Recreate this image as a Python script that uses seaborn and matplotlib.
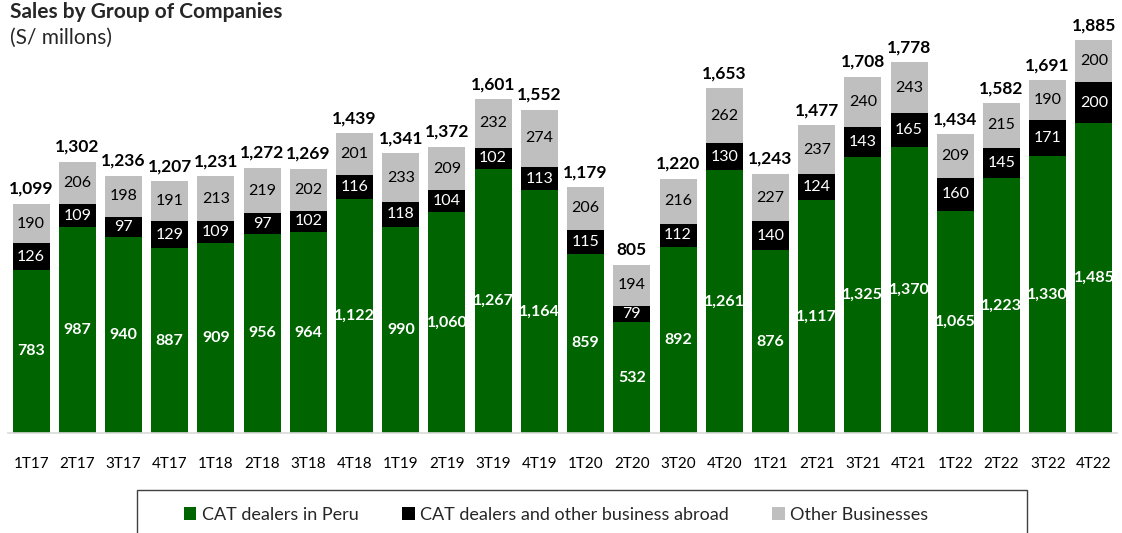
import matplotlib
matplotlib.use("Agg")
import matplotlib.pyplot as plt
import seaborn as sns
import numpy as np
import pandas as pd
from matplotlib.patches import Rectangle, Patch

quarters = ["1T17", "2T17", "3T17", "4T17", "1T18", "2T18", "3T18", "4T18",
            "1T19", "2T19", "3T19", "4T19", "1T20", "2T20", "3T20", "4T20",
            "1T21", "2T21", "3T21", "4T21", "1T22", "2T22", "3T22", "4T22"]
cat_peru = [783, 987, 940, 887, 909, 956, 964, 1122, 990, 1060, 1267, 1164,
            859, 532, 892, 1261, 876, 1117, 1325, 1370, 1065, 1223, 1330, 1485]
cat_abroad = [126, 109, 97, 129, 109, 97, 102, 116, 118, 104, 102, 113,
              115, 79, 112, 130, 140, 124, 143, 165, 160, 145, 171, 200]
other = [190, 206, 198, 191, 213, 219, 202, 201, 233, 209, 232, 274,
         206, 194, 216, 262, 227, 237, 240, 243, 209, 215, 190, 200]
totals = [1099, 1302, 1236, 1207, 1231, 1272, 1269, 1439, 1341, 1372, 1601, 1552,
          1179, 805, 1220, 1653, 1243, 1477, 1708, 1778, 1434, 1582, 1691, 1885]
series_names = ["CAT dealers in Peru", "CAT dealers and other business abroad", "Other Businesses"]
colors = ["#006400", "#000000", "#BFBFBF"]

sns.set_theme(style="white")
plt.rcParams['font.family'] = ['Lato', 'DejaVu Sans']

W, H = 1122, 533
fig = plt.figure(figsize=(W / 100, H / 100), dpi=100)
ax = fig.add_axes([8 / W, (H - 433) / H, (1117 - 8) / W, (433 - 40) / H])

df = pd.DataFrame({"q": quarters, "peru": cat_peru, "abroad": cat_abroad, "other": other})
b2 = np.array(cat_peru, dtype=float)
b3 = b2 + np.array(cat_abroad)

sns.barplot(data=df, x="q", y="peru", color=colors[0], width=0.8, ax=ax,
            saturation=1, linewidth=0)
sns.barplot(data=df, x="q", y="abroad", bottom=b2, color=colors[1], width=0.8, ax=ax,
            saturation=1, linewidth=0)
sns.barplot(data=df, x="q", y="other", bottom=b3, color=colors[2], width=0.8, ax=ax,
            saturation=1, linewidth=0)

ax.set_xlim(-0.5, len(quarters) - 0.5)
ax.set_ylim(0, 1885)
ax.set_xlabel("")
ax.set_ylabel("")
ax.set_yticks([])
for s in ["top", "right", "left"]:
    ax.spines[s].set_visible(False)
ax.spines["bottom"].set_color("#D9D9D9")
ax.spines["bottom"].set_linewidth(1.2)
ax.tick_params(axis="x", length=0, pad=17, labelsize=11, colors="#000000")

for i in range(len(quarters)):
    ax.text(i, cat_peru[i] / 2, f"{cat_peru[i]:,}", ha="center", va="center",
            color="white", fontsize=11.5, fontweight="bold")
    ax.text(i, b2[i] + cat_abroad[i] / 2, f"{cat_abroad[i]:,}", ha="center", va="center",
            color="white", fontsize=11.5)
    ax.text(i, b3[i] + other[i] / 2, f"{other[i]:,}", ha="center", va="center",
            color="black", fontsize=11.5)
    ax.annotate(f"{totals[i]:,}", (i, totals[i]), xytext=(0, 5), textcoords="offset points",
                ha="center", va="bottom", fontsize=12.5, fontweight="bold", color="black",
                annotation_clip=False)

fig.text(10 / W, 1 - 12 / H, "Sales by Group of Companies", ha="left", va="center",
         fontsize=15, fontweight="bold")
fig.text(10 / W, 1 - 38 / H, "(S/ millons)", ha="left", va="center", fontsize=15)

# legend box
fig.patches.append(Rectangle((137 / W, -10 / H), (1027 - 137) / W, (H - 490 + 10) / H,
                             transform=fig.transFigure, fill=False, edgecolor="#404040",
                             linewidth=1.0))
handles = [Patch(facecolor=c, edgecolor="none") for c in colors]
fig.legend(handles, series_names, loc="center", bbox_to_anchor=(556 / W, 1 - 515 / H),
           ncol=3, frameon=False, fontsize=13, handlelength=0.7, handleheight=0.7,
           handletextpad=0.3, columnspacing=2.4)

fig.savefig("out.png", dpi=100)
